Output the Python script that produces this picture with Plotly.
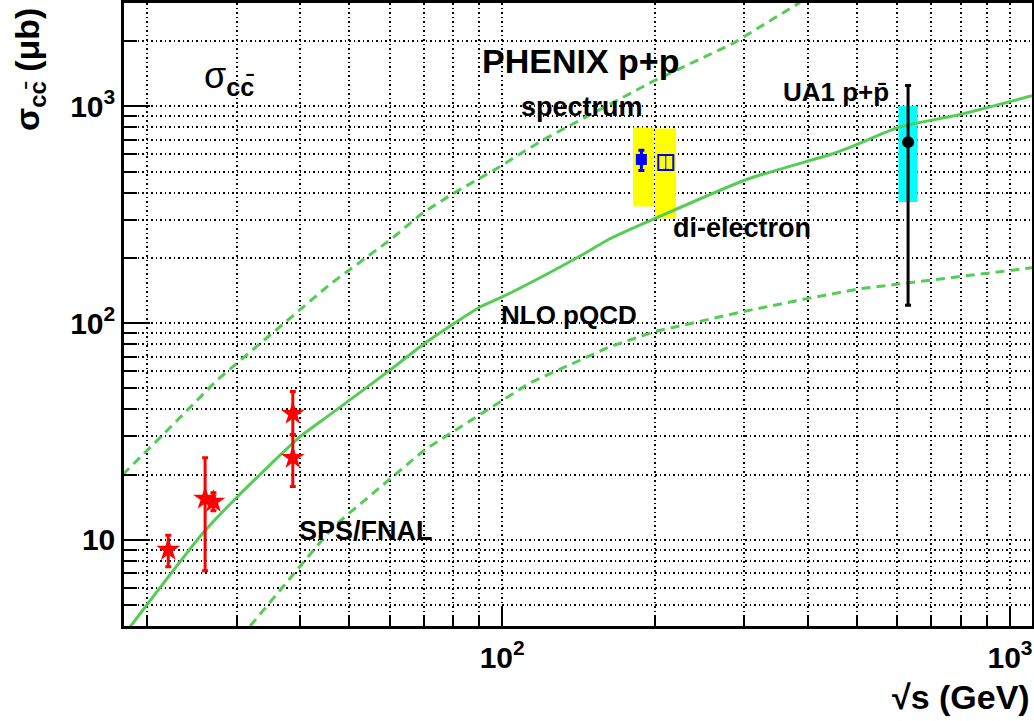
import math
import plotly.graph_objects as go

# NLO pQCD central curve and band edges
nlo_x = [18.5, 25.8, 30.1, 40, 45.8, 60.3, 69.9, 79.8, 90.6, 100, 120, 143, 163, 202, 303, 443, 484, 603, 798, 1105]
nlo_y = [3.96, 10.8, 15.8, 29.9, 37.8, 61, 79.6, 98.4, 119, 132, 164, 205, 245, 307, 460, 600, 647, 800, 918, 1120]
hi_x = [17.9, 21.2, 27.5, 45.8, 60.3, 69.9, 80.8, 99.1, 112, 123, 198, 285, 386]
hi_y = [20.0, 29.6, 54.8, 151, 243, 324, 401, 528, 632, 720, 1304, 1954, 3018]
lo_x = [31.9, 40, 46.5, 70.5, 89.3, 113.6, 163, 200, 298, 400, 507, 1105]
lo_y = [4.0, 7.5, 11.5, 26.1, 37.0, 53.1, 77.8, 91.4, 113, 130, 144, 180]

# SPS/FNAL
sps_x = [22.0, 26.0, 27.0, 38.7, 38.7]
sps_y = [9.0, 15.5, 15.0, 38.2, 23.9]
sps_ep = [1.5, 8.4, 1.5, 10.1, 6.6]
sps_em = [1.5, 8.3, 1.4, 7.7, 6.3]

# PHENIX p+p (single electron spectrum, di-electron)
spec_x = [188]
spec_y = [569]
spec_ep = [58]
spec_em = [63]
spec_sys_x = [181, 199]
spec_sys_y = [345, 800]
diel_x = [210]
diel_y = [551]
diel_ep = [42]
diel_em = [39]
diel_sys_x = [200, 220]
diel_sys_y = [304, 791]

# UA1 p+pbar
ua1_x = [630]
ua1_y = [684]
ua1_ep = [566]
ua1_em = [563]
ua1_sys_x = [603, 658]
ua1_sys_y = [362, 1003]

FONT = "Liberation Sans, Arial, Helvetica, sans-serif"
GREEN = "#55cc55"

W, H = 1034, 721
L, R, T, B = 124, 2, 3, 95
PW, PH = W - L - R, H - T - B


def px(x, y):
    return (x - L) / PW, 1 - (y - T) / PH


fig = go.Figure()

# systematic boxes, drawn first so everything else sits on top
for bx, by, col in [(spec_sys_x, spec_sys_y, "#ffff00"),
                    (diel_sys_x, diel_sys_y, "#ffff00"),
                    (ua1_sys_x, ua1_sys_y, "#00ffff")]:
    fig.add_trace(go.Scatter(
        x=[bx[0], bx[1], bx[1], bx[0], bx[0]],
        y=[by[0], by[0], by[1], by[1], by[0]],
        mode="lines", fill="toself", fillcolor=col,
        line=dict(width=0, color=col), hoverinfo="skip"))

fig.add_trace(go.Scatter(x=nlo_x, y=nlo_y, mode="lines",
                         line=dict(color=GREEN, width=3, shape="spline", smoothing=0.6)))
fig.add_trace(go.Scatter(x=hi_x, y=hi_y, mode="lines",
                         line=dict(color=GREEN, width=3, dash="9px,6px")))
fig.add_trace(go.Scatter(x=lo_x, y=lo_y, mode="lines",
                         line=dict(color=GREEN, width=3, dash="9px,6px")))

fig.add_trace(go.Scatter(
    x=sps_x, y=sps_y, mode="markers",
    marker=dict(symbol="star", size=18, color="red", line=dict(width=0)),
    error_y=dict(type="data", symmetric=False, array=sps_ep, arrayminus=sps_em,
                 color="red", thickness=3, width=3)))

fig.add_trace(go.Scatter(
    x=spec_x, y=spec_y, mode="markers",
    marker=dict(symbol="square", size=11, color="blue"),
    error_y=dict(type="data", symmetric=False, array=spec_ep, arrayminus=spec_em,
                 color="blue", thickness=3, width=3)))
fig.add_trace(go.Scatter(
    x=diel_x, y=diel_y, mode="markers",
    marker=dict(symbol="square-open", size=15, color="blue", line=dict(width=2)),
    error_y=dict(type="data", symmetric=False, array=diel_ep, arrayminus=diel_em,
                 color="blue", thickness=1, width=3)))

fig.add_trace(go.Scatter(
    x=ua1_x, y=ua1_y, mode="markers",
    marker=dict(symbol="circle", size=12, color="black"),
    error_y=dict(type="data", symmetric=False, array=ua1_ep, arrayminus=ua1_em,
                 color="black", thickness=3, width=3)))

x_major = [100, 1000]
x_major_text = ["10<sup>2</sup>", "10<sup>3</sup>"]
x_minor = [k * 10 for k in range(2, 10)] + [k * 100 for k in range(2, 10)]
y_major = [10, 100, 1000]
y_major_text = ["10", "10<sup>2</sup>", "10<sup>3</sup>"]
y_minor = list(range(4, 10)) + [k * 10 for k in range(2, 10)] + [k * 100 for k in range(2, 10)] + [2000, 3000]

grid = dict(showgrid=True, gridcolor="black", gridwidth=1.5, griddash="1.5px,3px")
fig.update_xaxes(type="log", range=[math.log10(18), math.log10(1105)],
                 tickmode="array", tickvals=x_major, ticktext=x_major_text,
                 ticks="inside", ticklen=20, tickwidth=1.5, tickcolor="black",
                 minor=dict(tickmode="array", tickvals=x_minor, ticks="inside",
                            ticklen=11, tickwidth=1.5, tickcolor="black", **grid),
                 showline=True, linecolor="black", linewidth=2.5, mirror=True,
                 zeroline=False, ticklabelstandoff=3, automargin=False,
                 tickfont=dict(family=FONT, size=30, color="black", weight="bold"),
                 **grid)
fig.update_yaxes(type="log", range=[math.log10(4), math.log10(3000)],
                 tickmode="array", tickvals=y_major, ticktext=y_major_text,
                 ticks="inside", ticklen=26, tickwidth=1.5, tickcolor="black",
                 minor=dict(tickmode="array", tickvals=y_minor, ticks="inside",
                            ticklen=13, tickwidth=1.5, tickcolor="black", **grid),
                 showline=True, linecolor="black", linewidth=2.5, mirror=True,
                 zeroline=False, ticklabelstandoff=0, automargin=False,
                 tickfont=dict(family=FONT, size=30, color="black", weight="bold"),
                 **grid)

labels = [
    ("PHENIX p+p", 580, 61, 34),
    ("spectrum", 582, 107, 27),
    ("di-electron", 742, 228, 27),
    ("UA1 p+p\u0304", 836, 92, 26),
    ("NLO pQCD", 569, 315, 26),
    ("SPS/FNAL", 366, 531, 27),
]
for txt, x, y, size in labels:
    ax, ay = px(x, y)
    fig.add_annotation(text=txt, x=ax, y=ay, xref="paper", yref="paper",
                       xanchor="center", yanchor="middle", showarrow=False,
                       font=dict(family=FONT, size=size, color="black", weight="bold"))

ax, ay = px(202, 78)
fig.add_annotation(text="\u03c3<sub><b>cc\u0304</b></sub>", x=ax, y=ay, xref="paper", yref="paper",
                   xanchor="left", yanchor="middle", showarrow=False,
                   font=dict(family=FONT, size=36, color="black"))

ax, ay = px(30, 70)
fig.add_annotation(text="\u03c3<sub>cc\u0304</sub> (\u03bcb)", x=ax, y=ay, xref="paper", yref="paper",
                   xanchor="center", yanchor="middle", showarrow=False, textangle=-90,
                   font=dict(family=FONT, size=34, color="black", weight="bold"))

ax, ay = px(1032, 697)
fig.add_annotation(text="\u221as (GeV)", x=ax, y=ay, xref="paper", yref="paper",
                   xanchor="right", yanchor="middle", showarrow=False,
                   font=dict(family=FONT, size=34, color="black", weight="bold"))

fig.update_layout(width=W, height=H, margin=dict(l=L, r=R, t=T, b=B, autoexpand=False),
                  paper_bgcolor="white", plot_bgcolor="white", showlegend=False)

fig.write_html("out.html", config={"displayModeBar": False},
               post_script="document.body.style.margin='0';")
